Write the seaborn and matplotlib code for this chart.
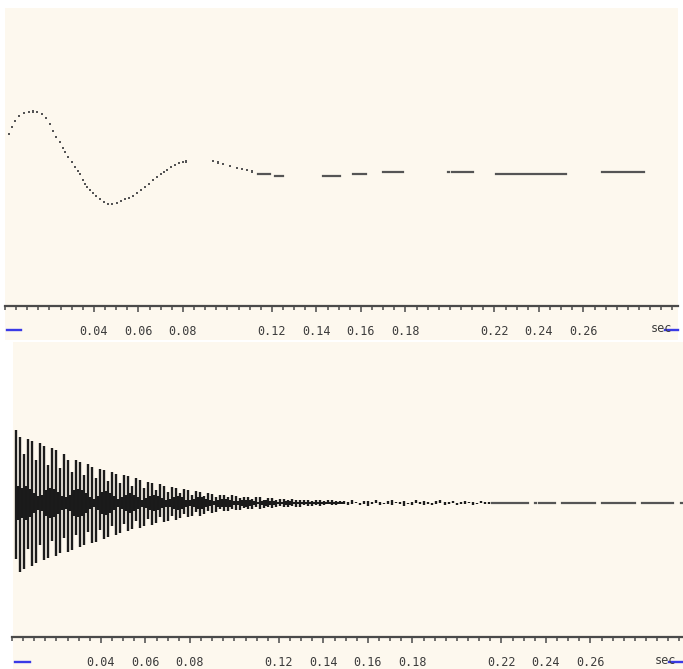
import numpy as np
import pandas as pd
import matplotlib
matplotlib.use("Agg")
import matplotlib.pyplot as plt
from matplotlib.patches import Rectangle
from matplotlib.lines import Line2D
from matplotlib.ticker import FixedLocator, MultipleLocator
import seaborn as sns

# ---------------------------------------------------------------- data
tick_values = [0.04, 0.06, 0.08, 0.12, 0.14, 0.16, 0.18, 0.22, 0.24, 0.26]
tick_labels = ["0.04", "0.06", "0.08", "0.12", "0.14", "0.16", "0.18",
               "0.22", "0.24", "0.26"]
unit_label = "sec"

# upper trace: slow damped oscillation, sampled points (s, relative amplitude)
upper_t = [0.0018, 0.0031, 0.0045, 0.0063, 0.0085, 0.0108, 0.0126, 0.0144,
           0.0166, 0.0184, 0.0202, 0.0216, 0.0229, 0.0247, 0.0261, 0.0270,
           0.0283, 0.0301, 0.0315, 0.0328, 0.0337, 0.0351, 0.0360, 0.0369,
           0.0382, 0.0396, 0.0409, 0.0427, 0.0445, 0.0463, 0.0481, 0.0503,
           0.0521, 0.0539, 0.0557, 0.0575, 0.0593, 0.0611, 0.0629, 0.0647,
           0.0665, 0.0683, 0.0701, 0.0715, 0.0728, 0.0746, 0.0764, 0.0782,
           0.0800, 0.0813, 0.0935, 0.0957, 0.0980, 0.1011, 0.1043, 0.1065,
           0.1088, 0.1110]
upper_v = [0.633, 0.750, 0.850, 0.933, 0.983, 1.000, 1.008, 1.000,
           0.967, 0.900, 0.800, 0.683, 0.583, 0.500, 0.400, 0.333,
           0.250, 0.167, 0.083, 0.017, -0.033, -0.133, -0.200, -0.250,
           -0.300, -0.350, -0.400, -0.450, -0.500, -0.533, -0.533, -0.517,
           -0.483, -0.450, -0.433, -0.400, -0.350, -0.300, -0.250, -0.200,
           -0.133, -0.083, -0.033, 0.000, 0.033, 0.083, 0.117, 0.150,
           0.167, 0.175, 0.183, 0.158, 0.133, 0.100, 0.067, 0.050,
           0.033, 0.008]
# settled tail of the upper trace, drawn as runs of samples
upper_run_start = [0.1137, 0.1213, 0.1429, 0.1564, 0.1699, 0.1991, 0.2009,
                   0.2207, 0.2683]
upper_run_end = [0.1191, 0.1249, 0.1506, 0.1622, 0.1789, 0.1996, 0.2103,
                 0.2521, 0.2872]
upper_run_level = [-0.03, -0.07, -0.06, -0.03, 0.0, 0.0, 0.0, -0.03, 0.0]

# lower trace: fast damped oscillation, one stroke per sample period
lower_dt = 0.0018
lower_top = [1.04, 0.95, 0.70, 0.92, 0.88, 0.62, 0.86, 0.82, 0.55, 0.78,
             0.76, 0.50, 0.70, 0.62, 0.44, 0.62, 0.58, 0.40, 0.56, 0.52,
             0.36, 0.48, 0.47, 0.32, 0.44, 0.42, 0.28, 0.40, 0.38, 0.25,
             0.36, 0.33, 0.22, 0.30, 0.29, 0.19, 0.27, 0.25, 0.16, 0.23,
             0.22, 0.14, 0.20, 0.18, 0.12, 0.17, 0.16, 0.10, 0.14, 0.13,
             0.09, 0.12, 0.12, 0.08, 0.11, 0.10, 0.07, 0.09, 0.09, 0.06,
             0.08, 0.08, 0.05, 0.07, 0.07, 0.05, 0.06, 0.06, 0.04, 0.06,
             0.05, 0.04, 0.05, 0.05, 0.03, 0.05, 0.04, 0.03, 0.04, 0.04,
             0.03, 0.03,
             0.03, 0.01, 0.04, 0.02, 0.00, 0.03, 0.03, 0.01, 0.04, 0.02,
             0.00, 0.03, 0.04, 0.02, 0.01, 0.03, 0.00, 0.02, 0.04, 0.01,
             0.03, 0.02, 0.00, 0.03, 0.04, 0.02, 0.01, 0.03, 0.00, 0.02,
             0.03, 0.01, 0.02, 0.00, 0.03, 0.01, 0.02]
lower_bottom = [0.80, 0.98, 0.94, 0.66, 0.90, 0.86, 0.60, 0.82, 0.78, 0.54,
                0.76, 0.72, 0.50, 0.70, 0.67, 0.46, 0.63, 0.60, 0.42, 0.57,
                0.55, 0.38, 0.52, 0.48, 0.33, 0.46, 0.43, 0.30, 0.40, 0.37,
                0.26, 0.35, 0.33, 0.23, 0.31, 0.29, 0.20, 0.27, 0.25, 0.18,
                0.24, 0.22, 0.15, 0.20, 0.19, 0.13, 0.18, 0.16, 0.11, 0.14,
                0.13, 0.09, 0.12, 0.11, 0.08, 0.10, 0.10, 0.07, 0.09, 0.08,
                0.06, 0.08, 0.07, 0.05, 0.07, 0.06, 0.04, 0.06, 0.05, 0.04,
                0.05, 0.05, 0.03, 0.04, 0.04, 0.03, 0.04, 0.03, 0.02, 0.03,
                0.03, 0.02,
                0.01, 0.03, 0.02, 0.00, 0.03, 0.01, 0.04, 0.02, 0.00, 0.03,
                0.02, 0.01, 0.03, 0.00, 0.02, 0.04, 0.01, 0.03, 0.00, 0.02,
                0.03, 0.01, 0.03, 0.02, 0.00, 0.03, 0.02, 0.00, 0.03, 0.01,
                0.02, 0.00, 0.03, 0.01, 0.00, 0.02, 0.01]
# half-width of the dense band between successive strokes
lower_core = [0.24, 0.22, 0.24, 0.20, 0.14, 0.10, 0.12, 0.18,
              0.22, 0.20, 0.16, 0.10, 0.08, 0.12, 0.18, 0.20,
              0.18, 0.14, 0.08, 0.06, 0.10, 0.16, 0.17, 0.14,
              0.10, 0.06, 0.08, 0.12, 0.14, 0.12, 0.08, 0.05,
              0.07, 0.10, 0.12, 0.10, 0.07, 0.05, 0.06, 0.09,
              0.10, 0.08, 0.05, 0.04, 0.06, 0.08, 0.08, 0.06,
              0.04, 0.03, 0.05, 0.06, 0.06, 0.05, 0.03, 0.03,
              0.04, 0.05, 0.04, 0.03, 0.02, 0.03, 0.04, 0.03,
              0.03, 0.02, 0.02, 0.03, 0.03, 0.02, 0.02, 0.02,
              0.02, 0.02, 0.02, 0.02, 0.02, 0.02, 0.02, 0.02, 0.02, 0.02]
lower_run_start = [0.2157, 0.2351, 0.2369, 0.2472, 0.2652, 0.2831, 0.3006]
lower_run_end = [0.2319, 0.2355, 0.2440, 0.2620, 0.2800, 0.2970, 0.3011]

# ---------------------------------------------------------------- style
PANEL = "#fdf8ee"
INK = "#4a4a4a"
TRACE = "#555555"
BLUE = "#3a3ae6"
FONT = ["DejaVu Sans Mono", "DejaVu Sans"]

plt.rcParams["font.family"] = FONT

W, H = 683, 669
fig = plt.figure(figsize=(W / 100, H / 100), dpi=100, facecolor="white")


def fx(px):
    return px / W


def fy(py):
    return 1 - py / H


def panel(left, top, right, bottom):
    fig.patches.append(Rectangle((fx(left), fy(bottom)), fx(right - left),
                                 (bottom - top) / H, transform=fig.transFigure,
                                 facecolor=PANEL, edgecolor="none", zorder=-5))


def make_axes(left, top, right, spine_y, xmax, ylim):
    ax = fig.add_axes([fx(left), fy(spine_y), fx(right - left),
                       (spine_y - top) / H])
    ax.set_facecolor("none")
    ax.set_zorder(2)
    ax.set_xlim(0, xmax)
    ax.set_ylim(*ylim)
    for side in ("top", "left", "right"):
        ax.spines[side].set_visible(False)
    ax.spines["bottom"].set_color(INK)
    ax.spines["bottom"].set_linewidth(1.6)
    ax.yaxis.set_visible(False)
    ax.xaxis.set_major_locator(FixedLocator(tick_values))
    ax.set_xticklabels(tick_labels)
    ax.xaxis.set_minor_locator(MultipleLocator(0.005))
    ax.tick_params(axis="x", which="major", length=4.5, width=1.1,
                   color=INK, pad=9, labelsize=8.5, labelcolor="#3c3c3c")
    ax.tick_params(axis="x", which="minor", length=3.0, width=1.1,
                   color=INK)
    return ax


def runs_frame(starts, ends, levels):
    rows = []
    for i, (a, b, v) in enumerate(zip(starts, ends, levels)):
        rows.append({"t": a, "v": v, "run": i})
        rows.append({"t": b, "v": v, "run": i})
    return pd.DataFrame(rows)


# ---------------------------------------------------------------- upper panel
panel(5, 8, 678, 340)
ax1 = make_axes(5, 8, 678, 306, 0.3025, (-2.233, 2.733))

upper_df = pd.DataFrame({"t": upper_t, "v": upper_v})
sns.scatterplot(data=upper_df, x="t", y="v", ax=ax1, marker="s", s=3.2,
                color=TRACE, edgecolor="none", legend=False)
sns.lineplot(data=runs_frame(upper_run_start, upper_run_end, upper_run_level),
             x="t", y="v", units="run", estimator=None, ax=ax1,
             color=TRACE, linewidth=1.6, legend=False)
ax1.set_xlabel("")
ax1.set_ylabel("")

# ---------------------------------------------------------------- lower panel
panel(13, 342, 683, 669)
ax2 = make_axes(12, 342, 683, 637, 0.3016, (-1.914, 2.3))

n = len(lower_top)
stroke_t = lower_dt * (np.arange(n) + 1)
ax2.vlines(stroke_t, -np.array(lower_bottom), np.array(lower_top),
           color="#1c1c1c", linewidth=1.7)
core_t = stroke_t[:len(lower_core)] + lower_dt / 2
core = np.array(lower_core)
ax2.vlines(core_t, -core, core, color="#1a1a1a", linewidth=1.7)

sns.lineplot(data=runs_frame(lower_run_start, lower_run_end,
                             [0.0] * len(lower_run_start)),
             x="t", y="v", units="run", estimator=None, ax=ax2,
             color=TRACE, linewidth=1.6, legend=False)
ax2.set_xlabel("")
ax2.set_ylabel("")

# ---------------------------------------------------------------- axis ends
for y_lab, x_left, x_sec in ((330, (7, 21), 661), (662, (15, 30), 665)):
    fig.add_artist(Line2D([fx(x_left[0]), fx(x_left[1])], [fy(y_lab)] * 2,
                          transform=fig.transFigure, color=BLUE, lw=1.7))
    fig.text(fx(x_sec), fy(y_lab - 1), unit_label, ha="center", va="center",
             fontsize=8.5, color="#3c3c3c", family=FONT)
    fig.add_artist(Line2D([fx(x_sec + 4), fx(x_sec + 17)], [fy(y_lab)] * 2,
                          transform=fig.transFigure, color=BLUE, lw=1.7))

fig.savefig("out.png", dpi=100, facecolor="white")
